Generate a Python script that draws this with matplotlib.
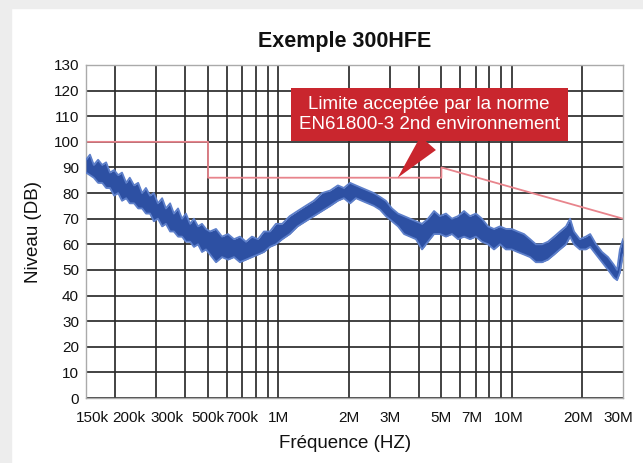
import matplotlib
matplotlib.use('Agg')
import matplotlib.pyplot as plt
import matplotlib.transforms as mtransforms
from matplotlib.patches import Rectangle

plt.rcParams['font.family'] = ['Liberation Sans', 'DejaVu Sans']

freq_mhz = [0.150, 0.156, 0.162, 0.169, 0.176, 0.183, 0.190, 0.198, 0.206, 0.214,
            0.223, 0.231, 0.241, 0.251, 0.261, 0.271, 0.282, 0.293, 0.305, 0.318,
            0.330, 0.344, 0.357, 0.372, 0.387, 0.402, 0.419, 0.435, 0.453, 0.471,
            0.490, 0.510, 0.541, 0.574, 0.609, 0.646, 0.685, 0.727, 0.771, 0.819,
            0.868, 0.921, 0.977, 1.04, 1.12, 1.21, 1.31, 1.42, 1.54, 1.67,
            1.80, 1.91, 2.03, 2.15, 2.28, 2.42, 2.57, 2.73, 2.89, 3.07,
            3.26, 3.46, 3.67, 3.89, 4.13, 4.38, 4.65, 4.93, 5.23, 5.55,
            5.89, 6.25, 6.63, 7.03, 7.46, 7.92, 8.40, 8.91, 9.45, 10.0,
            10.6, 11.3, 12.0, 12.7, 13.5, 14.3, 15.2, 16.1, 17.1, 17.8,
            18.5, 19.6, 20.8, 21.7, 23.0, 24.4, 25.9, 27.4, 28.3, 29.1, 30.0]
level_high = [93, 95, 91, 93, 91, 92, 88, 89, 87, 88,
              84, 86, 83, 84, 80, 82, 79, 80, 76, 78,
              74, 76, 72, 74, 70, 72, 68, 70, 67, 68,
              66, 65, 66, 63, 64, 62, 63, 61, 63, 62,
              65, 65, 68, 68, 71, 73, 75, 77, 80, 81,
              83, 82, 84, 83, 82, 81, 80, 78.5, 77, 74,
              72, 71, 70, 69, 68, 70, 73, 71, 72, 70,
              71, 73, 71, 72, 70, 67, 66, 67, 66, 66,
              65, 64, 62, 60, 60, 61, 63, 65, 67, 70,
              65, 62, 63, 64, 60, 57, 55, 52, 50, 58, 62]
level_low = [88, 87, 86, 84, 84, 82, 82, 79, 80, 77,
             78, 76, 76, 74, 74, 72, 72, 69, 70, 67,
             68, 65, 65, 63, 63, 61, 61, 59, 60, 57,
             58, 56, 53, 55, 54, 55, 53, 54, 55, 56,
             57, 59, 60, 62, 64, 67, 69, 71, 73, 75,
             77, 78, 76, 78, 77, 76, 75, 73.5, 71, 69,
             67, 64, 63, 62, 58, 61, 64, 64, 63, 64,
             62, 63, 62, 63, 61, 60, 58, 60, 58, 58,
             57, 56, 55, 53, 53, 54, 56, 58, 60, 63,
             60, 58, 58, 59, 56, 53, 50, 47, 46, 49, 56]

# EN61800-3 limit (MHz, dB)
limit_freq = [0.15, 0.5, 0.5, 5.0, 5.0, 30.0]
limit_level = [100, 100, 86, 86, 90, 70]

tick_freq = [0.15, 0.2, 0.3, 0.5, 0.7, 1, 2, 3, 5, 7, 10, 20, 30]
tick_labels = ['150k', '200k', '300k', '500k', '700k', '1M', '2M', '3M',
               '5M', '7M', '10M', '20M', '30M']
grid_freq = [0.2, 0.3, 0.4, 0.5, 0.6, 0.7, 0.8, 0.9, 1,
             2, 3, 4, 5, 6, 7, 8, 9, 10, 20]

fig = plt.figure(figsize=(6.43, 4.63), dpi=100)
fig.patches.append(Rectangle((0, 0), 11 / 643, 1, transform=fig.transFigure,
                             color='#ededed', zorder=-5))
fig.patches.append(Rectangle((0, 1 - 8 / 463), 1, 8 / 463, transform=fig.transFigure,
                             color='#ededed', zorder=-5))

ax = fig.add_axes([86 / 643, 1 - 398 / 463, 537 / 643, 333 / 463])
ax.set_xscale('log')
ax.set_xlim(0.15, 30)
ax.set_ylim(0, 130)

ax.fill_between(freq_mhz, level_low, level_high, color='#2d50a3', lw=0, zorder=3)
ax.plot(freq_mhz, level_high, color='#5d7fca', lw=1.3, zorder=3)
ax.plot(freq_mhz, level_low, color='#5d7fca', lw=1.3, zorder=3)
ax.plot(limit_freq, limit_level, color='#e8848c', lw=1.3, zorder=2)

ax.set_yticks(range(0, 131, 10))
ax.set_xticks(tick_freq)
ax.set_xticklabels(tick_labels)
ax.set_xticks(grid_freq, minor=True)
ax.xaxis.remove_overlapping_locs = False
ax.xaxis.set_minor_formatter(plt.NullFormatter())
ax.tick_params(which='both', length=0, labelsize=11, colors='#111111')
ax.tick_params(axis='x', pad=9)
ax.tick_params(axis='y', pad=5)
ax.grid(False, axis='x', which='major')
ax.grid(True, axis='x', which='minor', color='#2b2b2b', lw=1.25)
ax.grid(True, axis='y', which='major', color='#2b2b2b', lw=1.25)
ax.set_axisbelow(True)
for s in ax.spines.values():
    s.set_color('#aaaaaa')
    s.set_linewidth(1)

# shift crowded labels as in the source
offsets = {'150k': 6, '200k': 14, '300k': 11, '7M': -4, '10M': -3, '20M': -4, '30M': -5}
for lbl in ax.get_xticklabels():
    dx = offsets.get(lbl.get_text(), 0)
    if dx:
        lbl.set_transform(lbl.get_transform() +
                          mtransforms.ScaledTranslation(dx / 100, 0, fig.dpi_scale_trans))

ax.annotate('Limite acceptée par la norme\nEN61800-3 2nd environnement',
            xy=(3.25, 86), xycoords='data',
            xytext=(0.639, 0.851), textcoords='axes fraction',
            ha='center', va='center', color='white', fontsize=13.5,
            linespacing=1.25, zorder=6,
            bbox=dict(boxstyle='square,pad=0.42', fc='#c9262e', ec='none'),
            arrowprops=dict(arrowstyle='wedge,tail_width=1.1,shrink_factor=0.5',
                            fc='#c9262e', ec='none', relpos=(0.53, 0), shrinkB=0))

fig.text(345 / 643, 1 - 42 / 463, 'Exemple 300HFE', ha='center', va='center',
         fontsize=15.5, fontweight='bold', color='#111111')
fig.text(33 / 643, 1 - 232 / 463, 'Niveau (DB)', rotation=90, ha='center',
         va='center', fontsize=13.5, color='#111111')
fig.text(345 / 643, 1 - 444 / 463, 'Fréquence (HZ)', ha='center', va='center',
         fontsize=13.5, color='#111111')

fig.savefig('out.png', dpi=100)
